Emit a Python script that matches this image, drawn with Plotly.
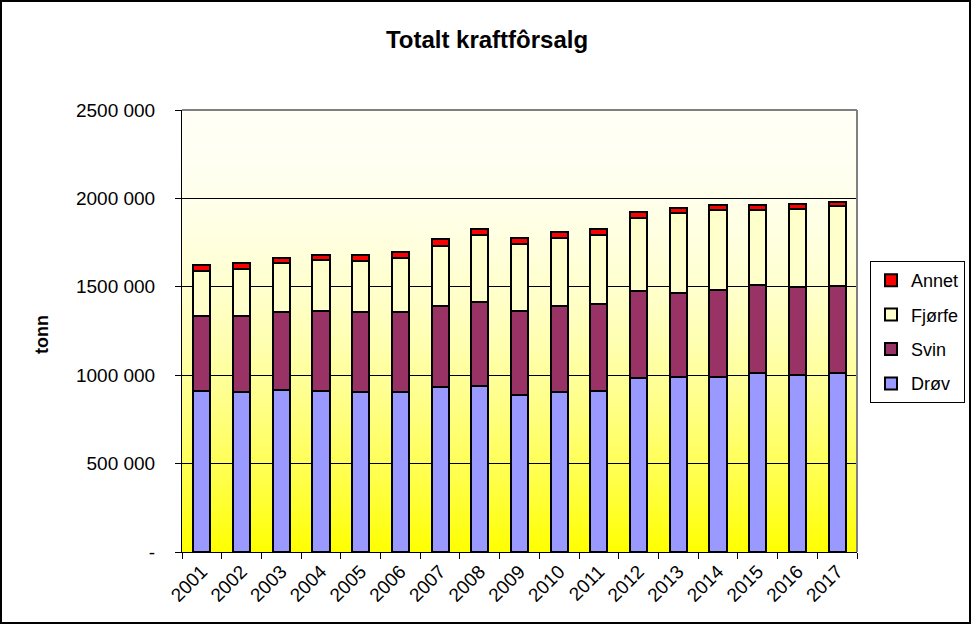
import plotly.graph_objects as go

years = [str(y) for y in range(2001, 2018)]
drov = [911000, 907000, 916000, 911000, 904000, 907000, 935000, 939000, 888000,
        907000, 913000, 986000, 990000, 990000, 1014000, 1003000, 1014000]
svin = [424000, 428000, 439000, 450000, 451000, 448000, 456000, 477000, 475000,
        484000, 490000, 489000, 477000, 492000, 496000, 494000, 493000]
fjorfe = [256000, 266000, 280000, 291000, 291000, 308000, 340000, 377000, 379000,
          385000, 390000, 414000, 451000, 453000, 425000, 445000, 450000]
annet = [32000, 35000, 30000, 28000, 34000, 34000, 39000, 34000, 36000,
         36000, 32000, 34000, 30000, 26000, 26000, 25000, 20000]

ytickvals = [0, 500000, 1000000, 1500000, 2000000, 2500000]
yticktext = ["-", "500 000", "1000 000", "1500 000", "2000 000", "2500 000"]

W, H = 971, 624
L, R, T, B = 182, 114, 110, 72
pw, ph = W - L - R, H - T - B

series = [("Drøv", drov, "#9999FF", 4), ("Svin", svin, "#993366", 3),
          ("Fjørfe", fjorfe, "#FFFFCC", 2), ("Annet", annet, "#FF0000", 1)]

fig = go.Figure()
for name, vals, col, rank in series:
    fig.add_trace(go.Bar(x=years, y=vals, name=name, legendgroup=name, legendrank=rank,
                         marker=dict(color=col, line=dict(color="black", width=2)),
                         width=0.43))

shapes = []
n = 80
for i in range(n):
    t = (i + 0.5) / n
    b = int(round(245 * (1 - t ** 2)))
    shapes.append(dict(type="rect", xref="paper", yref="paper", layer="below",
                       x0=0, x1=1, y0=1 - (i + 1) / n, y1=1 - i / n + 0.002,
                       fillcolor=f"rgb(255,255,{b})", line=dict(width=0)))
shapes.append(dict(type="line", xref="paper", yref="paper", x0=0, x1=1, y0=1, y1=1,
                   line=dict(color="#808080", width=2)))
shapes.append(dict(type="line", xref="paper", yref="paper", x0=1, x1=1, y0=0, y1=1,
                   line=dict(color="#808080", width=2)))
shapes.append(dict(type="rect", xref="paper", yref="paper",
                   x0=(1 - L) / pw, x1=(W - L - 1) / pw,
                   y0=-(B - 1) / ph, y1=(ph + T - 1) / ph,
                   line=dict(color="black", width=2), fillcolor="rgba(0,0,0,0)"))

fig.update_layout(
    width=W, height=H,
    margin=dict(l=L, r=R, t=T, b=B, autoexpand=False),
    paper_bgcolor="white", plot_bgcolor="rgba(0,0,0,0)",
    barmode="stack",
    font=dict(family="Liberation Sans, Arial, sans-serif", color="black", size=18),
    title=dict(text="<b>Totalt kraftfôrsalg</b>", x=487 / W, xanchor="center",
               y=1 - 40 / H, yanchor="middle", font=dict(size=24)),
    showlegend=True,
    legend=dict(xref="container", yref="container",
                x=870 / W, xanchor="left", y=1 - 261 / H, yanchor="top",
                traceorder="grouped", tracegroupgap=8,
                bordercolor="black", borderwidth=1, bgcolor="white",
                font=dict(size=18)),
    shapes=shapes,
    annotations=[dict(text="<b>tonn</b>", xref="paper", yref="paper",
                      x=(42 - L) / pw, y=(552 - 335) / ph, textangle=-90,
                      xanchor="center", yanchor="middle",
                      showarrow=False, font=dict(size=18))],
)
fig.update_yaxes(range=[0, 2500000], tickvals=ytickvals, ticktext=yticktext,
                 showgrid=True, gridcolor="black", gridwidth=1,
                 showline=True, linecolor="black", linewidth=1,
                 ticks="outside", ticklen=6, tickcolor="black",
                 ticklabelstandoff=16,
                 zeroline=False, tickfont=dict(size=19))
fig.update_xaxes(showline=True, linecolor="black", linewidth=1,
                 ticks="outside", ticklen=6, tickcolor="black", tickson="boundaries",
                 tickangle=-45, tickfont=dict(size=19), showgrid=False)

fig.write_html("out.html", post_script="document.body.style.margin='0';",
               config={"displayModeBar": False})
